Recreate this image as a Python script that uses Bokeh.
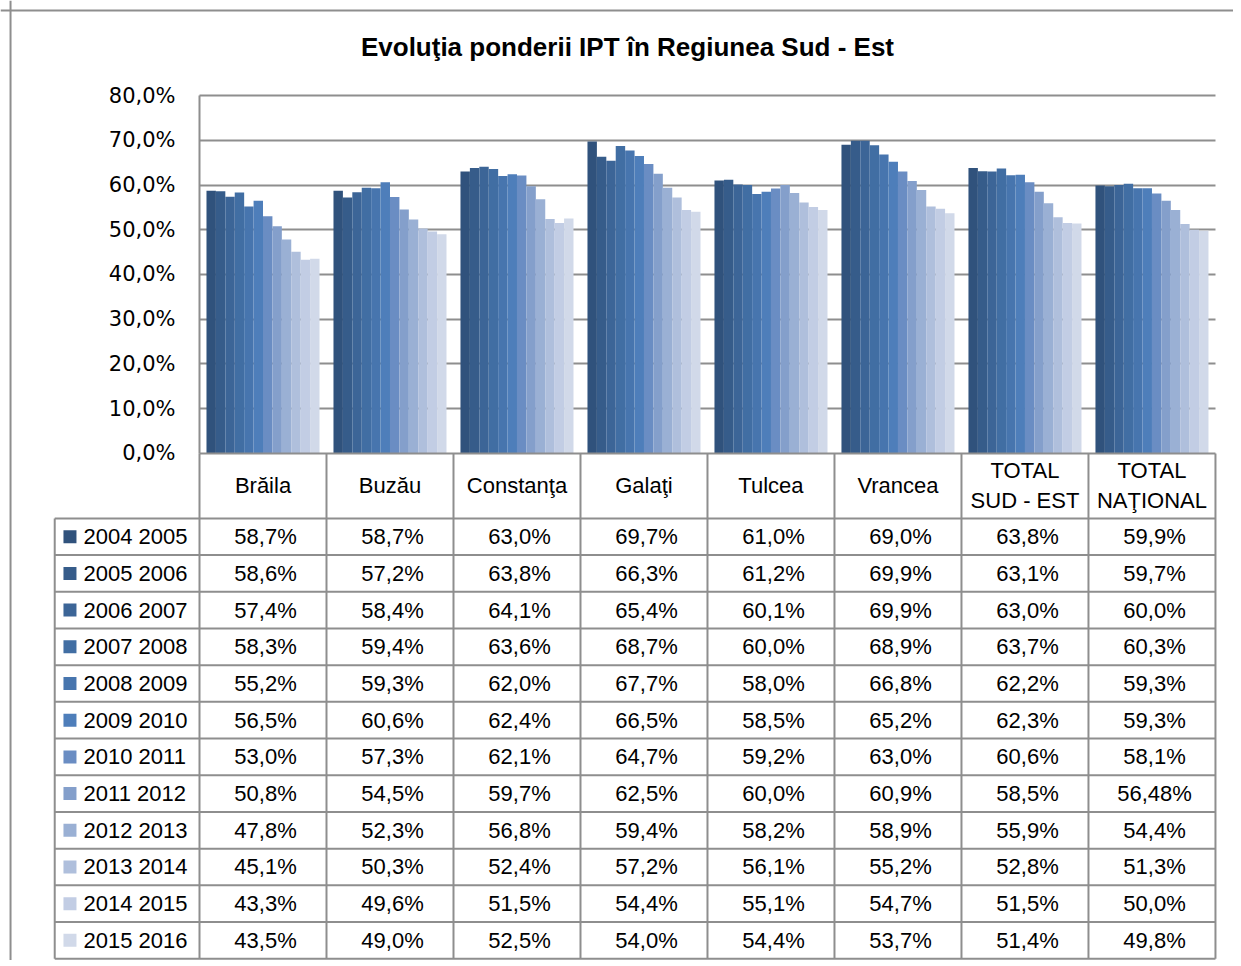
from bokeh.plotting import figure
from bokeh.models import (LinearAxis, FixedTicker, CustomJSTickFormatter, Grid, Span,
                          Label, Range1d)
from bokeh.core.properties import value
from bokeh.embed import file_html
from bokeh.resources import INLINE

# ---------------- data ----------------
categories = ["Brăila", "Buzău", "Constanţa", "Galaţi", "Tulcea", "Vrancea",
              "TOTAL\nSUD - EST", "TOTAL\nNAŢIONAL"]
years = ["2004 2005", "2005 2006", "2006 2007", "2007 2008", "2008 2009", "2009 2010",
         "2010 2011", "2011 2012", "2012 2013", "2013 2014", "2014 2015", "2015 2016"]

s_2004_2005 = [58.7, 58.7, 63.0, 69.7, 61.0, 69.0, 63.8, 59.9]
s_2005_2006 = [58.6, 57.2, 63.8, 66.3, 61.2, 69.9, 63.1, 59.7]
s_2006_2007 = [57.4, 58.4, 64.1, 65.4, 60.1, 69.9, 63.0, 60.0]
s_2007_2008 = [58.3, 59.4, 63.6, 68.7, 60.0, 68.9, 63.7, 60.3]
s_2008_2009 = [55.2, 59.3, 62.0, 67.7, 58.0, 66.8, 62.2, 59.3]
s_2009_2010 = [56.5, 60.6, 62.4, 66.5, 58.5, 65.2, 62.3, 59.3]
s_2010_2011 = [53.0, 57.3, 62.1, 64.7, 59.2, 63.0, 60.6, 58.1]
s_2011_2012 = [50.8, 54.5, 59.7, 62.5, 60.0, 60.9, 58.5, 56.48]
s_2012_2013 = [47.8, 52.3, 56.8, 59.4, 58.2, 58.9, 55.9, 54.4]
s_2013_2014 = [45.1, 50.3, 52.4, 57.2, 56.1, 55.2, 52.8, 51.3]
s_2014_2015 = [43.3, 49.6, 51.5, 54.4, 55.1, 54.7, 51.5, 50.0]
s_2015_2016 = [43.5, 49.0, 52.5, 54.0, 54.4, 53.7, 51.4, 49.8]

series = [s_2004_2005, s_2005_2006, s_2006_2007, s_2007_2008, s_2008_2009, s_2009_2010,
          s_2010_2011, s_2011_2012, s_2012_2013, s_2013_2014, s_2014_2015, s_2015_2016]

y_ticks = [0, 10, 20, 30, 40, 50, 60, 70, 80]
title_text = "Evoluţia ponderii IPT în Regiunea Sud - Est"

# ---------------- styles / layout ----------------
colors = ["#30527C", "#365C8A", "#3C6597", "#416EA3", "#4775AE", "#4E7EBA",
          "#6A8DC3", "#849FCB", "#9AB0D4", "#AFBFDC", "#C2CDE4", "#D1D9E9"]
GRID = "#8E8E8E"
W, H = 1233, 960
X0, X1 = -1.567, 8.142
Y0, Y1 = -113.3, 101.23
HEADER_BOTTOM = -14.5
ROW_H = 8.2
LEG_LEFT = -1.14
GROUP_W = 0.89

n_cat = len(categories)
n_ser = len(series)
bw = GROUP_W / n_ser

p = figure(width=W, height=H, x_range=Range1d(X0, X1), y_range=Range1d(Y0, Y1),
           output_backend="svg", toolbar_location=None,
           x_axis_location=None, y_axis_location=None, min_border=0,
           outline_line_color=None, background_fill_color="white",
           border_fill_color="white")
p.grid.visible = False

# gridlines
grid = Grid(dimension=1, ticker=FixedTicker(ticks=y_ticks[1:]), cross_bounds=(0, n_cat),
            grid_line_color=GRID, grid_line_width=2)
p.add_layout(grid)

# y axis at x = 0
yaxis = LinearAxis(fixed_location=0, ticker=FixedTicker(ticks=y_ticks),
                   formatter=CustomJSTickFormatter(code="return tick.toFixed(1).replace('.', ',') + '%';"),
                   bounds=(0, 80), axis_line_color=GRID, axis_line_width=2,
                   major_tick_out=0, major_tick_in=0, minor_tick_out=0, minor_tick_in=0,
                   major_label_standoff=24, major_label_text_font="DejaVu Sans",
                   major_label_text_font_size="21px", major_label_text_color="black")
p.add_layout(yaxis, "left")

# bars
for j, vals in enumerate(series):
    xs = [i + 0.5 + (j - (n_ser - 1) / 2) * bw for i in range(n_cat)]
    p.vbar(x=xs, top=vals, bottom=0, width=bw, fill_color=colors[j], line_color=None)

# table lines
table_bottom = HEADER_BOTTOM - n_ser * ROW_H
hy = [0, HEADER_BOTTOM] + [HEADER_BOTTOM - (k + 1) * ROW_H for k in range(n_ser)]
hx0 = [0] + [LEG_LEFT] * (len(hy) - 1)
p.segment(x0=hx0, x1=[n_cat] * len(hy), y0=hy, y1=hy, line_color=GRID, line_width=2)
vx = list(range(n_cat + 1))
p.segment(x0=vx, x1=vx, y0=[table_bottom] * len(vx), y1=[0] * len(vx), line_color=GRID, line_width=2)
p.segment(x0=[LEG_LEFT], x1=[LEG_LEFT], y0=[table_bottom], y1=[HEADER_BOTTOM], line_color=GRID, line_width=2)

# header labels
p.text(x=[i + 0.5 for i in range(n_cat)], y=[HEADER_BOTTOM / 2] * n_cat, text=categories,
       text_align="center", text_baseline="middle", text_font=value("Liberation Sans"),
       text_font_size="22px", text_color="black", text_line_height=1.2)

# legend column + values
row_y = [HEADER_BOTTOM - (k + 0.5) * ROW_H for k in range(n_ser)]
p.scatter(x=[-1.02] * n_ser, y=row_y, marker="square", size=13, fill_color=colors, line_color=None)
p.text(x=[-0.913] * n_ser, y=row_y, text=years, text_align="left", text_baseline="middle",
       text_font=value("Liberation Sans"), text_font_size="22px", text_color="black")

cx, cy, ct = [], [], []
for k, vals in enumerate(series):
    for i, v in enumerate(vals):
        cx.append(i + 0.52)
        cy.append(row_y[k])
        ct.append(str(v).replace(".", ",") + "%")
p.text(x=cx, y=cy, text=ct, text_align="center", text_baseline="middle",
       text_font=value("Liberation Sans"), text_font_size="22px", text_color="black")

# title
p.add_layout(Label(x=3.37, y=90.95, text=title_text, text_align="center", text_baseline="middle",
                   text_font="Liberation Sans", text_font_style="bold", text_font_size="26px",
                   text_color="black"))

# outer chart border (left and top)
p.add_layout(Span(location=-1.488, dimension="height", line_color=GRID, line_width=2))
p.add_layout(Span(location=98.99, dimension="width", line_color=GRID, line_width=2))

open("out.html", "w").write(file_html(p, INLINE))
